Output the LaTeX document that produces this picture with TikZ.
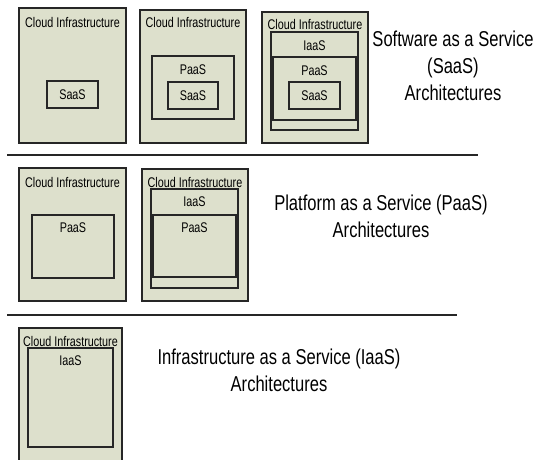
\documentclass[tikz,border=0pt]{standalone}
\usepackage{fontspec}
\setmainfont{Liberation Sans}
\newfontfamily\narrowfont[FakeStretch=0.77]{Liberation Sans}
\usepackage{xcolor}
\definecolor{boxfill}{RGB}{221,224,204}
\usetikzlibrary{calc}

\tikzset{
  cloudbox/.style={draw=black!85, fill=boxfill, line width=1.3pt, inner sep=0pt, outer sep=0pt, anchor=north west},
  tag/.style={inner sep=0pt, font=\narrowfont\fontsize{14}{14}\selectfont},
  caption/.style={inner sep=0pt, align=center, font=\narrowfont\fontsize{21.5}{27}\selectfont},
  rule/.style={line width=1.3pt, draw=black!85}
}

\begin{document}
\begin{tikzpicture}[x=1pt, y=-1pt]
\useasboundingbox (0,0) rectangle (539,459);
\clip (0,0) rectangle (539,459);
\node[cloudbox, minimum width=107pt, minimum height=135pt] (cloudA) at (19,8) {};
\node[tag] at ($(cloudA.north)+(0,14)$) {Cloud Infrastructure};
\node[cloudbox, minimum width=51pt, minimum height=27pt] (saasA) at (47,81) {};
\node[tag] at (saasA.center) {SaaS};
\node[cloudbox, minimum width=106pt, minimum height=133pt] (cloudB) at (140,10) {};
\node[tag] at ($(cloudB.north)+(0,12)$) {Cloud Infrastructure};
\node[cloudbox, minimum width=82pt, minimum height=63pt] (paasB) at (152,56) {};
\node[tag] at ($(paasB.north)+(0,14)$) {PaaS};
\node[cloudbox, minimum width=50pt, minimum height=27pt] (saasB) at (168,82) {};
\node[tag] at (saasB.center) {SaaS};
\node[cloudbox, minimum width=106pt, minimum height=131pt] (cloudC) at (262,12) {};
\node[tag] at ($(cloudC.north)+(0,12)$) {Cloud Infrastructure};
\node[cloudbox, minimum width=87pt, minimum height=98pt] (iaasC) at (271,32) {};
\node[tag] at ($(iaasC.north)+(0,14)$) {IaaS};
\node[cloudbox, minimum width=83pt, minimum height=63pt] (paasC) at (273,57) {};
\node[tag] at ($(paasC.north)+(0,14)$) {PaaS};
\node[cloudbox, minimum width=51pt, minimum height=27pt] (saasC) at (289,82) {};
\node[tag] at (saasC.center) {SaaS};
\node[caption] (capSaaS) at (453,66) {Software as a Service\\(SaaS)\\Architectures};
\draw[rule] (7,155) -- (478,155);
\node[cloudbox, minimum width=107pt, minimum height=133pt] (cloudD) at (19,168) {};
\node[tag] at ($(cloudD.north)+(0,14)$) {Cloud Infrastructure};
\node[cloudbox, minimum width=82pt, minimum height=63pt] (paasD) at (32,215) {};
\node[tag] at ($(paasD.north)+(0,13)$) {PaaS};
\node[cloudbox, minimum width=106pt, minimum height=132pt] (cloudE) at (142,169) {};
\node[tag] at ($(cloudE.north)+(0,13)$) {Cloud Infrastructure};
\node[cloudbox, minimum width=87pt, minimum height=99pt] (iaasE) at (151,189) {};
\node[tag] at ($(iaasE.north)+(0,13)$) {IaaS};
\node[cloudbox, minimum width=83pt, minimum height=62pt] (paasE) at (153,215) {};
\node[tag] at ($(paasE.north)+(0,13)$) {PaaS};
\node[caption] (capPaaS) at (381,216) {Platform as a Service (PaaS)\\Architectures};
\draw[rule] (7,315) -- (457,315);
\node[cloudbox, minimum width=103pt, minimum height=145pt] (cloudF) at (19,328) {};
\node[tag] at ($(cloudF.north)+(0,13)$) {Cloud Infrastructure};
\node[cloudbox, minimum width=85pt, minimum height=99pt] (iaasF) at (28,348) {};
\node[tag] at ($(iaasF.north)+(0,13)$) {IaaS};
\node[caption] (capIaaS) at (279,370) {Infrastructure as a Service (IaaS)\\Architectures};
\end{tikzpicture}
\end{document}
